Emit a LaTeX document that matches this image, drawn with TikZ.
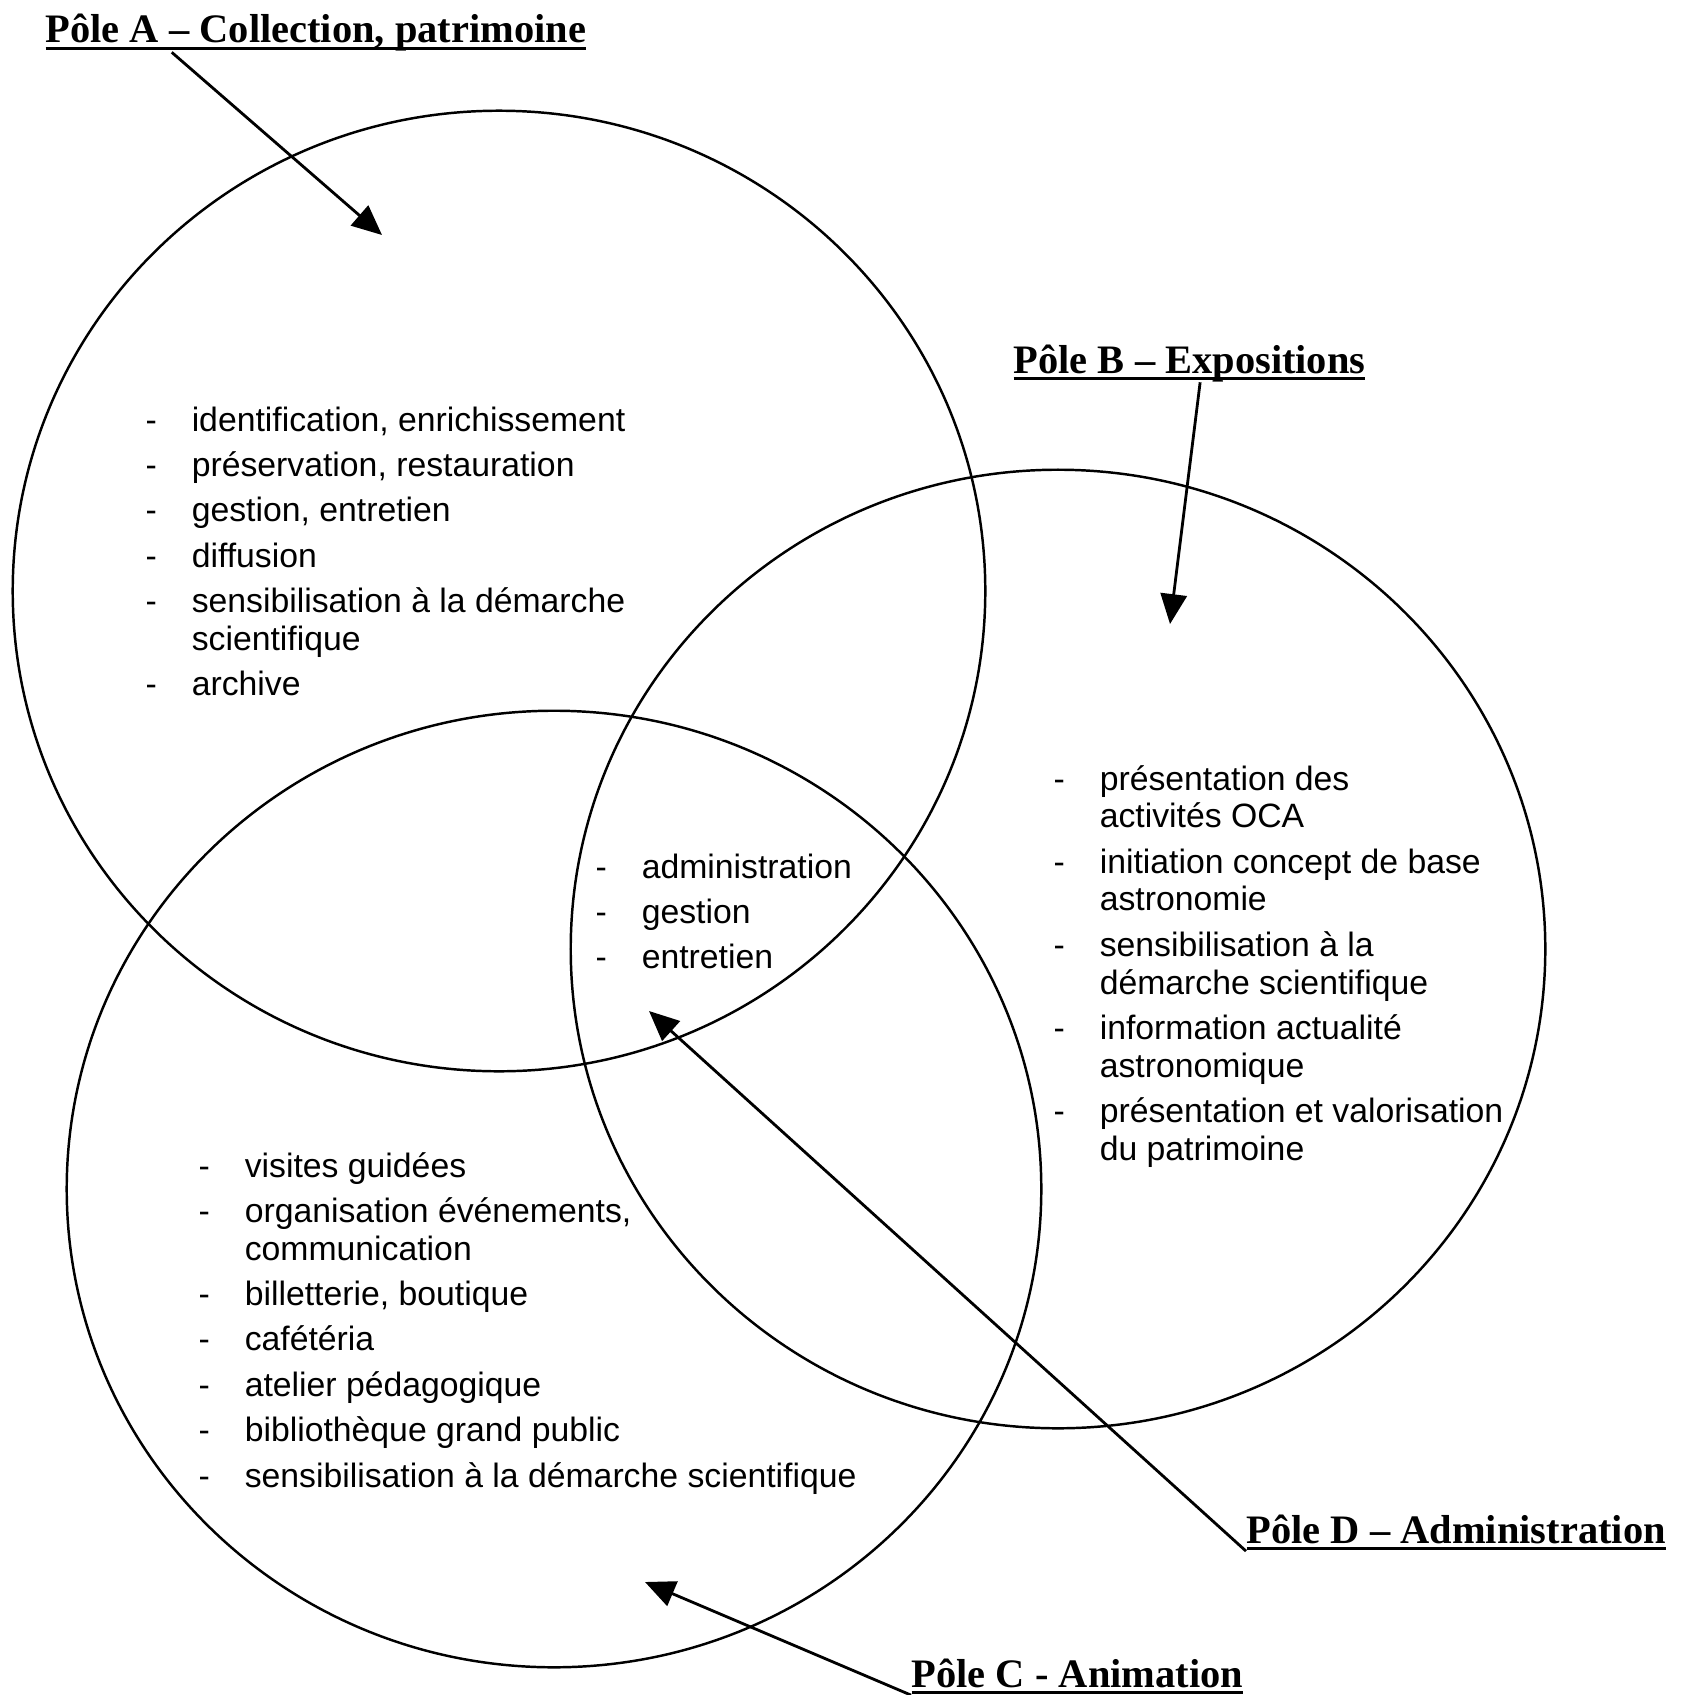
\documentclass[tikz,border=0pt]{standalone}
\usepackage{fontspec}
\setmainfont{Liberation Sans}
\newfontfamily\titlefont{Liberation Serif}
\usetikzlibrary{arrows.meta, calc}

% thick underline for pole titles
\newcommand{\poleul}[1]{\setbox0\hbox{#1}\leavevmode\rlap{\rule[-2.1pt]{\wd0}{0.9pt}}\box0}
% list of activities of one pole: dash, then text
\newcommand{\poleitems}[1]{\begin{tabular}[t]{@{}p{13.1pt}@{}l@{}}#1\end{tabular}}

\begin{document}
\begin{tikzpicture}[x=0.01cm, y=-0.01cm, >={Triangle[length=8.5pt, width=7.5pt]},
    ring/.style={line width=0.7pt},
    poleptr/.style={->, line width=0.8pt},
    poletitle/.style={anchor=base west, inner sep=0pt,
      font=\titlefont\bfseries\fontsize{11.5}{13}\selectfont},
    items/.style={anchor=base west, inner sep=0pt,
      font=\fontsize{9.6}{10.75}\selectfont}]
  \useasboundingbox (0,0) rectangle (1695,1694);
  %--- The four poles (A, B, C, and D in the middle)
  \draw[ring] (499,591)  ellipse [x radius=4.86cm, y radius=4.80cm];
  \draw[ring] (1058,949) ellipse [x radius=4.87cm, y radius=4.79cm];
  \draw[ring] (554,1189) ellipse [x radius=4.87cm, y radius=4.78cm];
  %--- Titles
  \node[poletitle] (tA) at (45,43)     {\poleul{Pôle A – Collection, patrimoine}};
  \node[poletitle] (tB) at (1013,373)  {\poleul{Pôle B – Expositions}};
  \node[poletitle] (tD) at (1246,1543) {\poleul{Pôle D – Administration}};
  \node[poletitle] (tC) at (911,1687)  {\poleul{Pôle C - Animation}};
  %--- Arrow tips
  \coordinate (pA) at (382,235);
  \coordinate (pB) at (1170,624);
  \coordinate (pD) at (649,1011);
  \coordinate (pC) at (645,1582);
  %--- Activities
  \node[items] (lA) at (145,431) {\poleitems{%
    - & identification, enrichissement\\[2.15pt]
    - & préservation, restauration\\[2.15pt]
    - & gestion, entretien\\[2.15pt]
    - & diffusion\\[2.15pt]
    - & sensibilisation à la démarche\\
      & scientifique\\[2.15pt]
    - & archive}};
  \node[items] (lB) at (1053,790) {\poleitems{%
    - & présentation des\\
      & activités OCA\\[2.15pt]
    - & initiation concept de base\\
      & astronomie\\[2.15pt]
    - & sensibilisation à la\\
      & démarche scientifique\\[2.15pt]
    - & information actualité\\
      & astronomique\\[2.15pt]
    - & présentation et valorisation\\
      & du patrimoine}};
  \node[items] (lD) at (595,878) {\poleitems{%
    - & administration\\[2.15pt]
    - & gestion\\[2.15pt]
    - & entretien}};
  \node[items] (lC) at (198,1177) {\poleitems{%
    - & visites guidées\\[2.15pt]
    - & organisation événements,\\
      & communication\\[2.15pt]
    - & billetterie, boutique\\[2.15pt]
    - & cafétéria\\[2.15pt]
    - & atelier pédagogique\\[2.15pt]
    - & bibliothèque grand public\\[2.15pt]
    - & sensibilisation à la démarche scientifique}};
  %--- Pointers from titles
  \draw[poleptr] ($(tA.south west)!0.234!(tA.south east)$) -- (pA);
  \draw[poleptr] ($(tB.south west)!0.53!(tB.south east)$) -- (pB);
  \draw[poleptr] (tD.south west) -- (pD);
  \draw[poleptr] (tC.south west) -- (pC);
\end{tikzpicture}
\end{document}
